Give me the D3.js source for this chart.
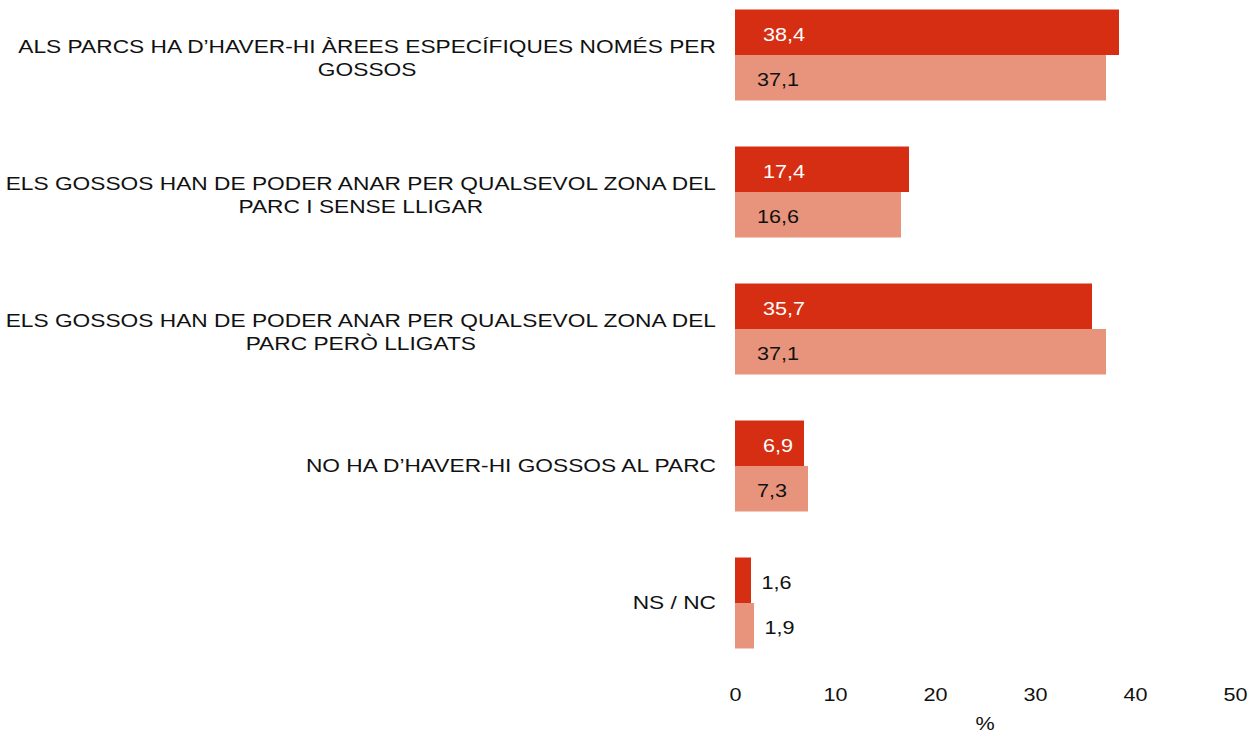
<!DOCTYPE html>
<html>
<head>
<meta charset="utf-8">
<script src="https://cdn.jsdelivr.net/npm/d3@7"></script>
<style>
  html, body { margin: 0; padding: 0; background: #fff; }
  svg { display: block; font-family: "Liberation Sans", Arial, sans-serif; }
</style>
</head>
<body>
<svg id="chart" width="1251" height="733"></svg>
<script>
// Survey answers (each label split into the lines it is drawn on)
const categories = [
  ["ALS PARCS HA D\u2019HAVER-HI \u00c0REES ESPEC\u00cdFIQUES NOM\u00c9S PER", "GOSSOS"],
  ["ELS GOSSOS HAN DE PODER ANAR PER QUALSEVOL ZONA DEL", "PARC I SENSE LLIGAR"],
  ["ELS GOSSOS HAN DE PODER ANAR PER QUALSEVOL ZONA DEL", "PARC PER\u00d2 LLIGATS"],
  ["NO HA D\u2019HAVER-HI GOSSOS AL PARC"],
  ["NS / NC"]
];
const seriesA = [38.4, 17.4, 35.7, 6.9, 1.6];
const seriesB = [37.1, 16.6, 37.1, 7.3, 1.9];
const xTicks = [0, 10, 20, 30, 40, 50];
const xTitle = "%";

const fmt = v => String(v.toFixed(1)).replace(".", ",");

// Text is drawn wide: horizontal stretch factors
const FS = 18;
const SX_LABEL = 1.263;
const SX_NUM = 1.2;

const svg = d3.select("#chart");
const ids = categories.map((c, i) => i);

const x = d3.scaleLinear().domain([0, 50]).range([735, 1235]);
const y = d3.scaleBand().domain(ids).range([-13.5, 671.5])
  .paddingInner(46 / 137).paddingOuter(23 / 137);
const sub = d3.scaleBand().domain(["A", "B"]).range([0, y.bandwidth()]);

const colors = { A: "#D52E12", B: "#E8947C" };
const rows = ids.map(i => ({ i, A: seriesA[i], B: seriesB[i] }));

const groups = svg.append("g").selectAll("g").data(rows).join("g")
  .attr("transform", d => `translate(0,${y(d.i)})`);

["A", "B"].forEach(k => {
  groups.append("rect")
    .attr("x", x(0))
    .attr("y", sub(k))
    .attr("width", d => x(d[k]) - x(0))
    .attr("height", sub.bandwidth())
    .attr("fill", colors[k]);

  groups.append("text")
    .attr("transform", d => {
      const tx = d[k] < 5 ? x(d[k]) + 10.5 : x(0) + (k === "A" ? 28 : 22);
      const ty = sub(k) + sub.bandwidth() / 2 + 2;
      return `translate(${tx},${ty}) scale(${SX_NUM},1)`;
    })
    .attr("dy", "0.35em")
    .attr("font-size", FS)
    .attr("fill", d => (k === "A" && d[k] >= 5) ? "#fff" : "#111")
    .text(d => fmt(d[k]));
});

// Category labels: wrapped labels centred as a block, single lines right-aligned
const labelRight = 716;
const lineH = 23;
const lab = svg.append("g").attr("font-size", FS).attr("fill", "#111");
categories.forEach((lines, i) => {
  const cy = y(i) + y.bandwidth() / 2;
  if (lines.length === 1) {
    lab.append("text")
      .attr("transform", `translate(${labelRight},${cy}) scale(${SX_LABEL},1)`)
      .attr("dy", "0.35em")
      .attr("text-anchor", "end").text(lines[0]);
  } else {
    const tmp = lab.append("text").text(lines[0]);
    const w = tmp.node().getComputedTextLength() * SX_LABEL;
    tmp.remove();
    const cx = labelRight - w / 2;
    lines.forEach((ln, j) => {
      const ly = cy + (j - (lines.length - 1) / 2) * lineH + 3;
      lab.append("text")
        .attr("transform", `translate(${cx},${ly}) scale(${SX_LABEL},1)`)
        .attr("dy", "0.35em")
        .attr("text-anchor", "middle")
        .text(ln);
    });
  }
});

// Value axis without line or tick marks
const axis = svg.append("g").attr("transform", "translate(0,695)")
  .call(d3.axisBottom(x).tickValues(xTicks).tickSize(0).tickPadding(0));
axis.select(".domain").remove();
axis.selectAll("text").attr("font-size", FS).attr("fill", "#111")
  .attr("font-family", "Liberation Sans, Arial, sans-serif")
  .attr("dy", "0.35em")
  .attr("transform", `scale(${SX_NUM},1)`);

svg.append("text")
  .attr("transform", `translate(${x(25)},724) scale(${SX_NUM},1)`)
  .attr("dy", "0.35em")
  .attr("text-anchor", "middle").attr("font-size", FS).attr("fill", "#111")
  .text(xTitle);
</script>
</body>
</html>
